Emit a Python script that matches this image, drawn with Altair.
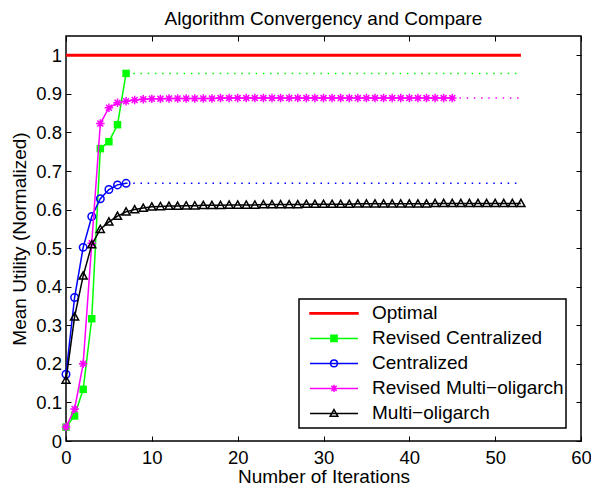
import altair as alt
import pandas as pd

# ---------------- data ----------------
series_names = ["Optimal", "Revised Centralized", "Centralized",
                "Revised Multi\u2212oligarch", "Multi\u2212oligarch"]
series_colors = ["#ff0000", "#00ff00", "#0000ff", "#ff00ff", "#000000"]

last_iteration = 53

optimal_iters = [0, 53]
optimal_vals = [1.0, 1.0]

rc_iters = [0, 1, 2, 3, 4, 5, 6, 7]
rc_vals = [0.036, 0.065, 0.134, 0.317, 0.758, 0.776, 0.820, 0.953]

c_iters = [0, 1, 2, 3, 4, 5, 6, 7]
c_vals = [0.173, 0.372, 0.502, 0.582, 0.628, 0.652, 0.664, 0.668]

rm_vals = [0.036, 0.083, 0.200, 0.513, 0.823, 0.864, 0.877, 0.881, 0.884, 0.886,
           0.887, 0.887, 0.888, 0.888, 0.888, 0.888, 0.888, 0.888, 0.889, 0.889,
           0.889, 0.889, 0.889, 0.889, 0.889, 0.889, 0.889, 0.889, 0.889, 0.889,
           0.889, 0.889, 0.889, 0.889, 0.889, 0.889, 0.889, 0.889, 0.889, 0.889,
           0.889, 0.889, 0.889, 0.889, 0.889, 0.889]
rm_iters = list(range(len(rm_vals)))

m_vals = [0.158, 0.322, 0.428, 0.509, 0.549, 0.568, 0.583, 0.594, 0.600, 0.604,
          0.607, 0.608, 0.609, 0.609, 0.610, 0.610, 0.611, 0.611, 0.611, 0.612,
          0.612, 0.612, 0.612, 0.613, 0.613, 0.613, 0.613, 0.613, 0.614, 0.614,
          0.614, 0.614, 0.614, 0.614, 0.615, 0.615, 0.615, 0.615, 0.615, 0.615,
          0.615, 0.615, 0.615, 0.616, 0.616, 0.616, 0.616, 0.616, 0.616, 0.616,
          0.616, 0.616, 0.616, 0.616]
m_iters = list(range(len(m_vals)))

x_ticks = [0, 10, 20, 30, 40, 50, 60]
y_ticks = [0, 0.1, 0.2, 0.3, 0.4, 0.5, 0.6, 0.7, 0.8, 0.9, 1]

# legend symbols: line with marker (unit coordinates)
legend_paths = [
    "M-1,-0.03H1V0.03H-1Z",
    "M-1,0H1M-0.13,-0.13H0.13V0.13H-0.13Z",
    "M-1,0H1M0.14,0A0.14,0.14,0,1,1,-0.14,0A0.14,0.14,0,1,1,0.14,0Z",
    "M-1,0H1M-0.15,0H0.15M0,-0.15V0.15M-0.11,-0.11L0.11,0.11M-0.11,0.11L0.11,-0.11",
    "M-1,0H1M0,-0.16L0.16,0.12L-0.16,0.12Z",
]
legend_fills = ["#ff0000", "#00ff00", "transparent", "transparent", "transparent"]

star_path = "M-1,0H1M0,-1V1M-0.7,-0.7L0.7,0.7M-0.7,0.7L0.7,-0.7"
triangle_path = "M0,-1L1,0.8L-1,0.8Z"

FONT = "Liberation Sans"


def frame(iters, vals):
    return pd.DataFrame({"iter": iters, "value": vals})


def extension(iters, vals):
    return pd.DataFrame({"iter": [iters[-1], last_iteration],
                         "value": [vals[-1], vals[-1]]})


x_scale = alt.Scale(domain=[0, 60], nice=False, zero=False)
y_scale = alt.Scale(domain=[0, 1.05], nice=False, zero=False)

axis_common = dict(tickSize=5, offset=-5, domain=False, grid=False,
                   tickColor="black", tickWidth=1, labelFlush=False,
                   labelOverlap=False, labelFont=FONT, labelFontSize=18.5,
                   labelColor="black", titleFont=FONT, titleFontSize=19,
                   titleFontWeight="normal", titleColor="black")

x_bottom = alt.Axis(orient="bottom", values=x_ticks, format="d", labelPadding=7,
                    title="Number of Iterations", titlePadding=1, **axis_common)
y_left = alt.Axis(orient="left", values=y_ticks, format="~g", labelPadding=4.5,
                  title="Mean Utility (Normalized)", titlePadding=6, **axis_common)
x_top = alt.Axis(orient="top", values=x_ticks, labels=False, title=None, **axis_common)
y_right = alt.Axis(orient="right", values=y_ticks, labels=False, title=None, **axis_common)


def enc(axis_x=None, axis_y=None):
    return dict(
        x=alt.X("iter:Q", scale=x_scale, axis=axis_x),
        y=alt.Y("value:Q", scale=y_scale, axis=axis_y),
    )


layers = []

# Optimal
layers.append(alt.Chart(frame(optimal_iters, optimal_vals)).mark_line(
    color="#ff0000", strokeWidth=3).encode(**enc(x_top, y_right)))

# Revised Centralized
layers.append(alt.Chart(frame(rc_iters, rc_vals)).mark_line(
    color="#00ff00", strokeWidth=1.5).encode(**enc()))
layers.append(alt.Chart(extension(rc_iters, rc_vals)).mark_line(
    color="#00ff00", strokeWidth=1.5, strokeDash=[1.5, 5.7]).encode(**enc()))
layers.append(alt.Chart(frame(rc_iters, rc_vals)).mark_point(
    shape="square", filled=True, size=56, color="#00ff00", opacity=1).encode(**enc()))

# Centralized
layers.append(alt.Chart(frame(c_iters, c_vals)).mark_line(
    color="#0000ff", strokeWidth=1.5).encode(**enc()))
layers.append(alt.Chart(extension(c_iters, c_vals)).mark_line(
    color="#0000ff", strokeWidth=1.5, strokeDash=[1.5, 5.7]).encode(**enc()))
layers.append(alt.Chart(frame(c_iters, c_vals)).mark_point(
    shape="circle", filled=False, size=56, color="#0000ff", strokeWidth=1.5,
    opacity=1).encode(**enc()))

# Revised Multi-oligarch
layers.append(alt.Chart(frame(rm_iters, rm_vals)).mark_line(
    color="#ff00ff", strokeWidth=1.5).encode(**enc()))
layers.append(alt.Chart(extension(rm_iters, rm_vals)).mark_line(
    color="#ff00ff", strokeWidth=1.5, strokeDash=[1.5, 5.7]).encode(**enc()))
layers.append(alt.Chart(frame(rm_iters, rm_vals)).mark_point(
    shape=star_path, filled=False, size=72, color="#ff00ff", strokeWidth=1.5,
    opacity=1).encode(**enc()))

# Multi-oligarch
layers.append(alt.Chart(frame(m_iters, m_vals)).mark_line(
    color="#000000", strokeWidth=1.5).encode(**enc(x_bottom, y_left)))
layers.append(alt.Chart(frame(m_iters, m_vals)).mark_point(
    shape=triangle_path, filled=False, size=64, color="#000000", strokeWidth=1.5,
    opacity=1).encode(**enc()))

# legend carrier (invisible marks, visible legend)
legend = alt.Legend(title=None, orient="none", legendX=233, legendY=263,
                    direction="vertical", symbolSize=2304, symbolStrokeWidth=1.5,
                    symbolOpacity=1, symbolOffset=8, labelOffset=13,
                    clipHeight=24.8, rowPadding=0, padding=2,
                    strokeColor="black", fillColor="white",
                    labelFont=FONT, labelFontSize=19, labelColor="black",
                    labelLimit=400)
legend_df = pd.DataFrame({"series": series_names})
layers.append(alt.Chart(legend_df).mark_point(
    filled=False, opacity=0, strokeWidth=1.5, size=1).encode(
    x=alt.value(258), y=alt.value(200),
    shape=alt.Shape("series:N", scale=alt.Scale(domain=series_names, range=legend_paths), legend=legend),
    fill=alt.Fill("series:N", scale=alt.Scale(domain=series_names, range=legend_fills), legend=legend),
    stroke=alt.Stroke("series:N", scale=alt.Scale(domain=series_names, range=series_colors), legend=legend),
))

chart = alt.layer(*layers).resolve_axis(x="independent", y="independent").properties(
    width=515, height=405,
    padding={"left": 58, "top": 28, "right": 10, "bottom": 46},
    autosize=alt.AutoSizeParams(type="none"),
    title=alt.TitleParams("Algorithm Convergency and Compare", font=FONT, fontSize=19,
                          fontWeight="normal", color="black", anchor="middle",
                          frame="group", offset=7, baseline="top"),
).configure_view(stroke="black", strokeWidth=1.5).configure_legend(strokeWidth=1.5)

chart.save("out.html", embed_options={"renderer": "svg", "actions": False})
